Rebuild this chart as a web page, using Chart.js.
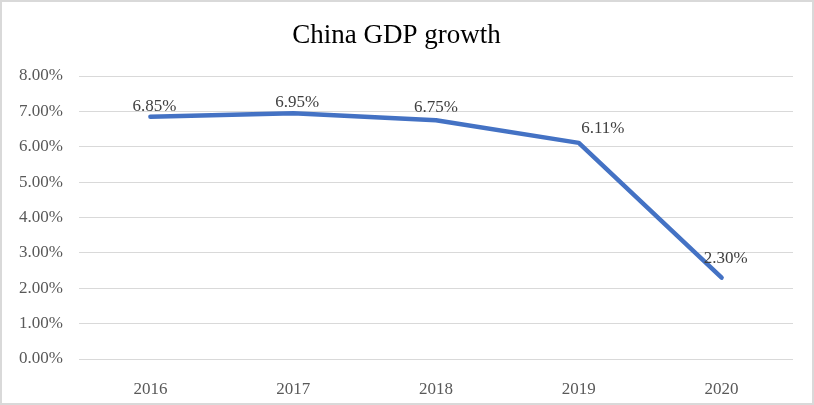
<!DOCTYPE html>
<html>
<head>
<meta charset="utf-8">
<script src="https://cdn.jsdelivr.net/npm/chart.js@4/dist/chart.umd.min.js"></script>
<style>
  body { margin: 0; background: #fff; }
</style>
</head>
<body>
<canvas id="myChart" width="814" height="405"></canvas>
<script>
  const years = ['2016', '2017', '2018', '2019', '2020']
  const growth = [6.85, 6.95, 6.75, 6.11, 2.30]
  const yTicks = [0, 1, 2, 3, 4, 5, 6, 7, 8]

  // nudges for the value labels (x right, y up), like the original
  const labelDx = [4, 4, 0, 24, 4]
  const labelDy = [6, 6, 8, 10, 15]

  const serif = '"Liberation Serif", "Times New Roman", serif'

  const frame = {
    id: 'frame',
    beforeDraw(chart) {
      const c = chart.ctx
      c.save()
      c.fillStyle = '#fff'
      c.fillRect(0, 0, chart.width, chart.height)
      c.strokeStyle = '#d9d9d9'
      c.lineWidth = 2
      c.strokeRect(1, 1, chart.width - 2, chart.height - 2)
      c.restore()
    }
  }

  const pointLabels = {
    id: 'pointLabels',
    afterDatasetsDraw(chart) {
      const c = chart.ctx
      const meta = chart.getDatasetMeta(0)
      c.save()
      c.font = '17px ' + serif
      c.fillStyle = '#404040'
      c.textAlign = 'center'
      c.textBaseline = 'alphabetic'
      meta.data.forEach((pt, i) => {
        c.fillText(growth[i].toFixed(2) + '%', pt.x + labelDx[i], pt.y - labelDy[i])
      })
      c.restore()
    }
  }

  const ctx = document.getElementById('myChart')

  new Chart(ctx, {
    type: 'line',
    data: {
      labels: years,
      datasets: [{
        data: growth,
        borderColor: '#4472C4',
        borderWidth: 4.5,
        pointRadius: 0,
        tension: 0,
        borderCapStyle: 'round',
        borderJoinStyle: 'round'
      }]
    },
    options: {
      responsive: false,
      animation: false,
      layout: { padding: { left: 0, right: 21, top: 0, bottom: 0 } },
      scales: {
        x: {
          offset: true,
          grid: { display: false },
          border: { display: false },
          ticks: { color: '#595959', font: { family: serif, size: 17 }, padding: 12 },
          afterFit(scale) { scale.height = 46 }
        },
        y: {
          min: 0,
          max: 8,
          afterBuildTicks(scale) { scale.ticks = yTicks.map(v => ({ value: v })) },
          grid: { color: '#d9d9d9', lineWidth: 1, drawTicks: false },
          border: { display: false },
          ticks: {
            color: '#595959',
            font: { family: serif, size: 17 },
            padding: 16,
            callback: v => v.toFixed(2) + '%'
          },
          afterFit(scale) { scale.width = 79 }
        }
      },
      plugins: {
        legend: { display: false },
        tooltip: { enabled: false },
        title: {
          display: true,
          text: 'China GDP growth',
          color: '#000',
          font: { family: serif, size: 27, weight: 'normal' },
          padding: { top: 20, bottom: 23.6 }
        }
      }
    },
    plugins: [frame, pointLabels]
  })
</script>
</body>
</html>
